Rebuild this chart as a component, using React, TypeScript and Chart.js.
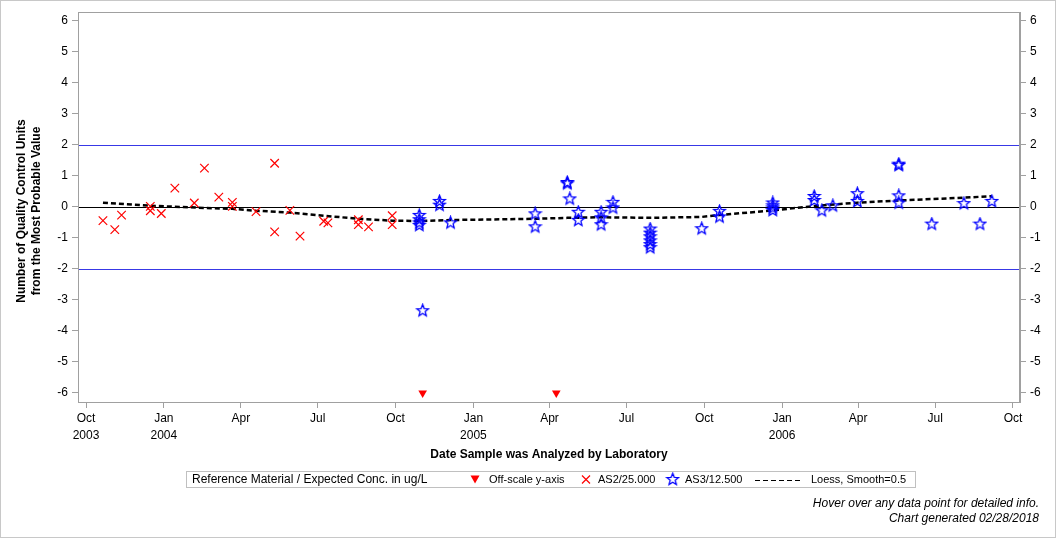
import { useEffect, useRef } from "react";
import { Chart, registerables } from "chart.js";

Chart.register(...registerables);

// ---------- data ----------
const as2Dates = [
  "2003-10-21", "2003-11-04", "2003-11-12", "2003-12-16", "2003-12-16", "2003-12-29",
  "2004-01-14", "2004-02-06", "2004-02-18", "2004-03-06", "2004-03-22", "2004-03-22",
  "2004-04-19", "2004-05-11", "2004-05-11", "2004-05-29", "2004-06-10", "2004-07-08",
  "2004-07-13", "2004-08-18", "2004-08-18", "2004-08-30", "2004-09-27", "2004-09-27",
];
const as2Values = [
  -0.45, -0.74, -0.27, 0.01, -0.13, -0.22,
  0.6, 0.12, 1.24, 0.31, 0.14, 0.01,
  -0.16, 1.4, -0.81, -0.12, -0.95, -0.47,
  -0.52, -0.42, -0.58, -0.65, -0.29, -0.58,
];

const as3Dates = [
  "2004-10-29", "2004-10-29", "2004-10-29", "2004-10-29", "2004-11-02",
  "2004-11-22", "2004-11-22", "2004-12-05",
  "2005-03-15", "2005-03-15", "2005-04-22", "2005-04-22", "2005-04-25",
  "2005-05-05", "2005-05-05", "2005-06-01", "2005-06-01", "2005-06-01",
  "2005-06-15", "2005-06-15",
  "2005-07-29", "2005-07-29", "2005-07-29", "2005-07-29", "2005-07-29", "2005-07-29",
  "2005-09-28", "2005-10-19", "2005-10-19",
  "2005-12-21", "2005-12-21", "2005-12-21", "2005-12-21",
  "2006-02-08", "2006-02-08", "2006-02-17", "2006-03-02", "2006-03-31", "2006-03-31",
  "2006-05-19", "2006-05-19", "2006-05-19", "2006-05-19",
  "2006-06-27", "2006-08-04", "2006-08-23", "2006-09-06",
];
const as3Values = [
  -0.28, -0.42, -0.52, -0.6, -3.35,
  0.17, 0.05, -0.52,
  -0.23, -0.65, 0.78, 0.74, 0.25,
  -0.18, -0.44, -0.18, -0.36, -0.58,
  0.14, -0.04,
  -0.72, -0.85, -0.97, -1.1, -1.22, -1.32,
  -0.71, -0.15, -0.33,
  0.12, 0.03, -0.04, -0.12,
  0.33, 0.2, -0.13, 0.03, 0.42, 0.17,
  1.37, 1.33, 0.35, 0.12,
  -0.56, 0.1, -0.56, 0.17,
];

const offScaleDates = ["2004-11-02", "2005-04-09"];
const offScaleValues = [-6, -6];

const loessDates = [
  "2003-10-21", "2003-12-16", "2004-01-14", "2004-02-18", "2004-03-22", "2004-04-19",
  "2004-05-29", "2004-07-08", "2004-08-18", "2004-09-27", "2004-10-29", "2004-12-05",
  "2005-03-15", "2005-04-22", "2005-06-01", "2005-07-29", "2005-09-28", "2005-10-19",
  "2005-12-21", "2006-02-08", "2006-03-31", "2006-05-19", "2006-08-04", "2006-09-06",
];
const loessValues = [
  0.13, 0.03, 0.0, -0.04, -0.07, -0.13,
  -0.19, -0.29, -0.39, -0.45, -0.46, -0.43,
  -0.39, -0.36, -0.34, -0.36, -0.33, -0.27,
  -0.12, 0.02, 0.13, 0.2, 0.29, 0.34,
];

const xTickDates = [
  "2003-10-01", "2004-01-01", "2004-04-01", "2004-07-01", "2004-10-01",
  "2005-01-01", "2005-04-01", "2005-07-01", "2005-10-01",
  "2006-01-01", "2006-04-01", "2006-07-01", "2006-10-01",
];
const xTickLabels = [
  ["Oct", "2003"], ["Jan", "2004"], ["Apr"], ["Jul"], ["Oct"],
  ["Jan", "2005"], ["Apr"], ["Jul"], ["Oct"],
  ["Jan", "2006"], ["Apr"], ["Jul"], ["Oct"],
];
const yTickValues = [-6, -5, -4, -3, -2, -1, 0, 1, 2, 3, 4, 5, 6];
const limitLines = [2, -2];
const zeroLine = 0;

const FONT = '"Liberation Sans", Arial, Helvetica, sans-serif';

function dayNum(s: string) {
  const [y, m, d] = s.split("-").map(Number);
  return Date.UTC(y, m - 1, d) / 86400000;
}
function pts(dates: string[], vals: number[]) {
  return dates.map((d, i) => ({ x: dayNum(d), y: vals[i] }));
}

function makeStar(color: string) {
  const c = document.createElement("canvas");
  const s = 15;
  c.width = s;
  c.height = s;
  const ctx = c.getContext("2d")!;
  ctx.beginPath();
  for (let i = 0; i < 10; i++) {
    const r = i % 2 === 0 ? 6.2 : 2.7;
    const a = -Math.PI / 2 + (i * Math.PI) / 5;
    const x = 7.5 + r * Math.cos(a);
    const y = 7.5 + r * Math.sin(a);
    if (i === 0) ctx.moveTo(x, y);
    else ctx.lineTo(x, y);
  }
  ctx.closePath();
  ctx.strokeStyle = color;
  ctx.lineWidth = 1.3;
  ctx.stroke();
  return c;
}

export default function App() {
  const ref = useRef<HTMLCanvasElement | null>(null);

  useEffect(() => {
    document.body.style.margin = "0";
    const canvas = ref.current!;
    const star = makeStar("#0000ff");
    const GRAY = "#a0a0a0";

    const hLine = (ctx: CanvasRenderingContext2D, a: any, py: number, color: string) => {
      ctx.beginPath();
      ctx.strokeStyle = color;
      ctx.lineWidth = 1;
      ctx.setLineDash([]);
      ctx.moveTo(a.left, py);
      ctx.lineTo(a.right, py);
      ctx.stroke();
    };

    const decor = {
      id: "decor",
      beforeDatasetsDraw(chart: any) {
        const { ctx, chartArea: a } = chart;
        const y = chart.scales.y;
        ctx.save();
        limitLines.forEach((v) => {
          hLine(ctx, a, Math.round(y.getPixelForValue(v)) + 0.5, "rgb(56, 56, 230)");
        });
        hLine(ctx, a, Math.round(y.getPixelForValue(zeroLine)) + 0.5, "rgb(0, 0, 0)");
        ctx.restore();
      },
      afterDraw(chart: any) {
        const { ctx, chartArea: a } = chart;
        ctx.save();
        // plot frame
        ctx.strokeStyle = GRAY;
        ctx.lineWidth = 1;
        ctx.strokeRect(Math.round(a.left) + 0.5, Math.round(a.top) + 0.5, Math.round(a.right - a.left) - 1, Math.round(a.bottom - a.top));
        // outer border
        ctx.strokeStyle = "#c8c8c8";
        ctx.strokeRect(0.5, 0.5, chart.width - 1, chart.height - 1);

        ctx.fillStyle = "#000";
        ctx.textBaseline = "middle";
        // x title
        ctx.font = `bold 12px ${FONT}`;
        ctx.textAlign = "center";
        ctx.fillText("Date Sample was Analyzed by Laboratory", (a.left + a.right) / 2, 455);
        // y title
        ctx.save();
        ctx.translate(22, 211);
        ctx.rotate(-Math.PI / 2);
        ctx.fillText("Number of Quality Control Units", 0, 0);
        ctx.fillText("from the Most Probable Value", 0, 15);
        ctx.restore();

        // legend
        ctx.strokeStyle = "#c0c0c0";
        ctx.strokeRect(186.5, 471.5, 729, 16);
        const ly = 479.5;
        ctx.textAlign = "left";
        ctx.font = `12px ${FONT}`;
        ctx.fillText("Reference Material / Expected Conc. in ug/L", 192, ly);
        ctx.font = `11px ${FONT}`;
        // triangle
        ctx.fillStyle = "#ff0000";
        ctx.beginPath();
        ctx.moveTo(470.5, ly - 4);
        ctx.lineTo(479.5, ly - 4);
        ctx.lineTo(475, ly + 4);
        ctx.closePath();
        ctx.fill();
        ctx.fillStyle = "#000";
        ctx.fillText("Off-scale y-axis", 489, ly);
        // cross
        ctx.strokeStyle = "#ff0000";
        ctx.lineWidth = 1.2;
        ctx.beginPath();
        ctx.moveTo(582, ly - 4);
        ctx.lineTo(590, ly + 4);
        ctx.moveTo(590, ly - 4);
        ctx.lineTo(582, ly + 4);
        ctx.stroke();
        ctx.lineWidth = 1;
        ctx.fillText("AS2/25.000", 598, ly);
        // star
        ctx.drawImage(star, 672.7 - 7.5, ly - 7.5);
        ctx.fillText("AS3/12.500", 685, ly);
        // dashed line
        ctx.strokeStyle = "#000";
        ctx.setLineDash([5, 3]);
        ctx.beginPath();
        ctx.moveTo(755, Math.round(ly) + 0.5);
        ctx.lineTo(801, Math.round(ly) + 0.5);
        ctx.stroke();
        ctx.setLineDash([]);
        ctx.fillText("Loess, Smooth=0.5", 811, ly);

        // footer
        ctx.font = `italic 12px ${FONT}`;
        ctx.textAlign = "right";
        ctx.fillText("Hover over any data point for detailed info.", 1039, 504);
        ctx.fillText("Chart generated 02/28/2018", 1039, 519);
        ctx.restore();
      },
    };

    const yAxisCommon = {
      type: "linear" as const,
      min: -6.29,
      max: 6.27,
      bounds: "data" as const,
      afterBuildTicks: (s: any) => {
        s.ticks = yTickValues.map((v) => ({ value: v }));
      },
      grid: { drawOnChartArea: false, tickLength: 6, color: GRAY },
      border: { color: GRAY },
      ticks: {
        autoSkip: false,
        padding: 4,
        color: "#000",
        font: { family: FONT, size: 12 },
        callback: (v: any) => String(v),
      },
    };

    const chart = new Chart(canvas, {
      type: "scatter",
      data: {
        datasets: [
          {
            label: "Loess, Smooth=0.5",
            data: pts(loessDates, loessValues),
            showLine: true,
            borderColor: "#000",
            borderWidth: 2.5,
            borderDash: [5, 3],
            pointRadius: 0,
            fill: false,
            order: 10,
          } as any,
          {
            label: "AS2/25.000",
            data: pts(as2Dates, as2Values),
            pointStyle: "crossRot",
            pointRadius: 6,
            borderColor: "#ff0000",
            backgroundColor: "#ff0000",
            pointBorderWidth: 1.2,
            order: 1,
          },
          {
            label: "AS3/12.500",
            data: pts(as3Dates, as3Values),
            pointStyle: star as any,
            pointRadius: 6,
            order: 1,
          },
          {
            label: "Off-scale y-axis",
            data: pts(offScaleDates, offScaleValues),
            pointStyle: "triangle",
            rotation: 180,
            pointRadius: 5,
            borderColor: "#ff0000",
            backgroundColor: "#ff0000",
            pointBorderWidth: 0,
            order: 1,
          } as any,
        ],
      },
      options: {
        responsive: false,
        animation: false,
        layout: { padding: { top: 12, left: 0, right: 0, bottom: 0 } },
        plugins: { legend: { display: false }, tooltip: { enabled: false } },
        scales: {
          x: {
            type: "linear",
            position: "bottom",
            min: dayNum("2003-09-21") + 0.5,
            max: dayNum("2006-10-09") + 0.3,
            bounds: "data",
            afterBuildTicks: (s: any) => {
              s.ticks = xTickDates.map((d) => ({ value: dayNum(d) }));
            },
            afterFit: (s: any) => {
              s.height = 136;
            },
            grid: { drawOnChartArea: false, tickLength: 6, color: GRAY },
            border: { color: GRAY },
            ticks: {
              autoSkip: false,
              maxRotation: 0,
              minRotation: 0,
              padding: 2,
              color: "#000",
              font: { family: FONT, size: 12, lineHeight: 1.4 },
              callback: (_v: any, i: number) => xTickLabels[i],
            },
          },
          y: {
            ...yAxisCommon,
            position: "left",
            afterFit: (s: any) => {
              s.width = 78;
            },
          },
          y2: {
            ...yAxisCommon,
            position: "right",
            afterFit: (s: any) => {
              s.width = 36;
            },
          },
        },
      } as any,
      plugins: [decor],
    });

    return () => chart.destroy();
  }, []);

  return (
    <div style={{ position: "fixed", left: 0, top: 0, width: 1056, height: 538 }}>
      <canvas ref={ref} width={1056} height={538} style={{ width: 1056, height: 538, display: "block" }} />
    </div>
  );
}
